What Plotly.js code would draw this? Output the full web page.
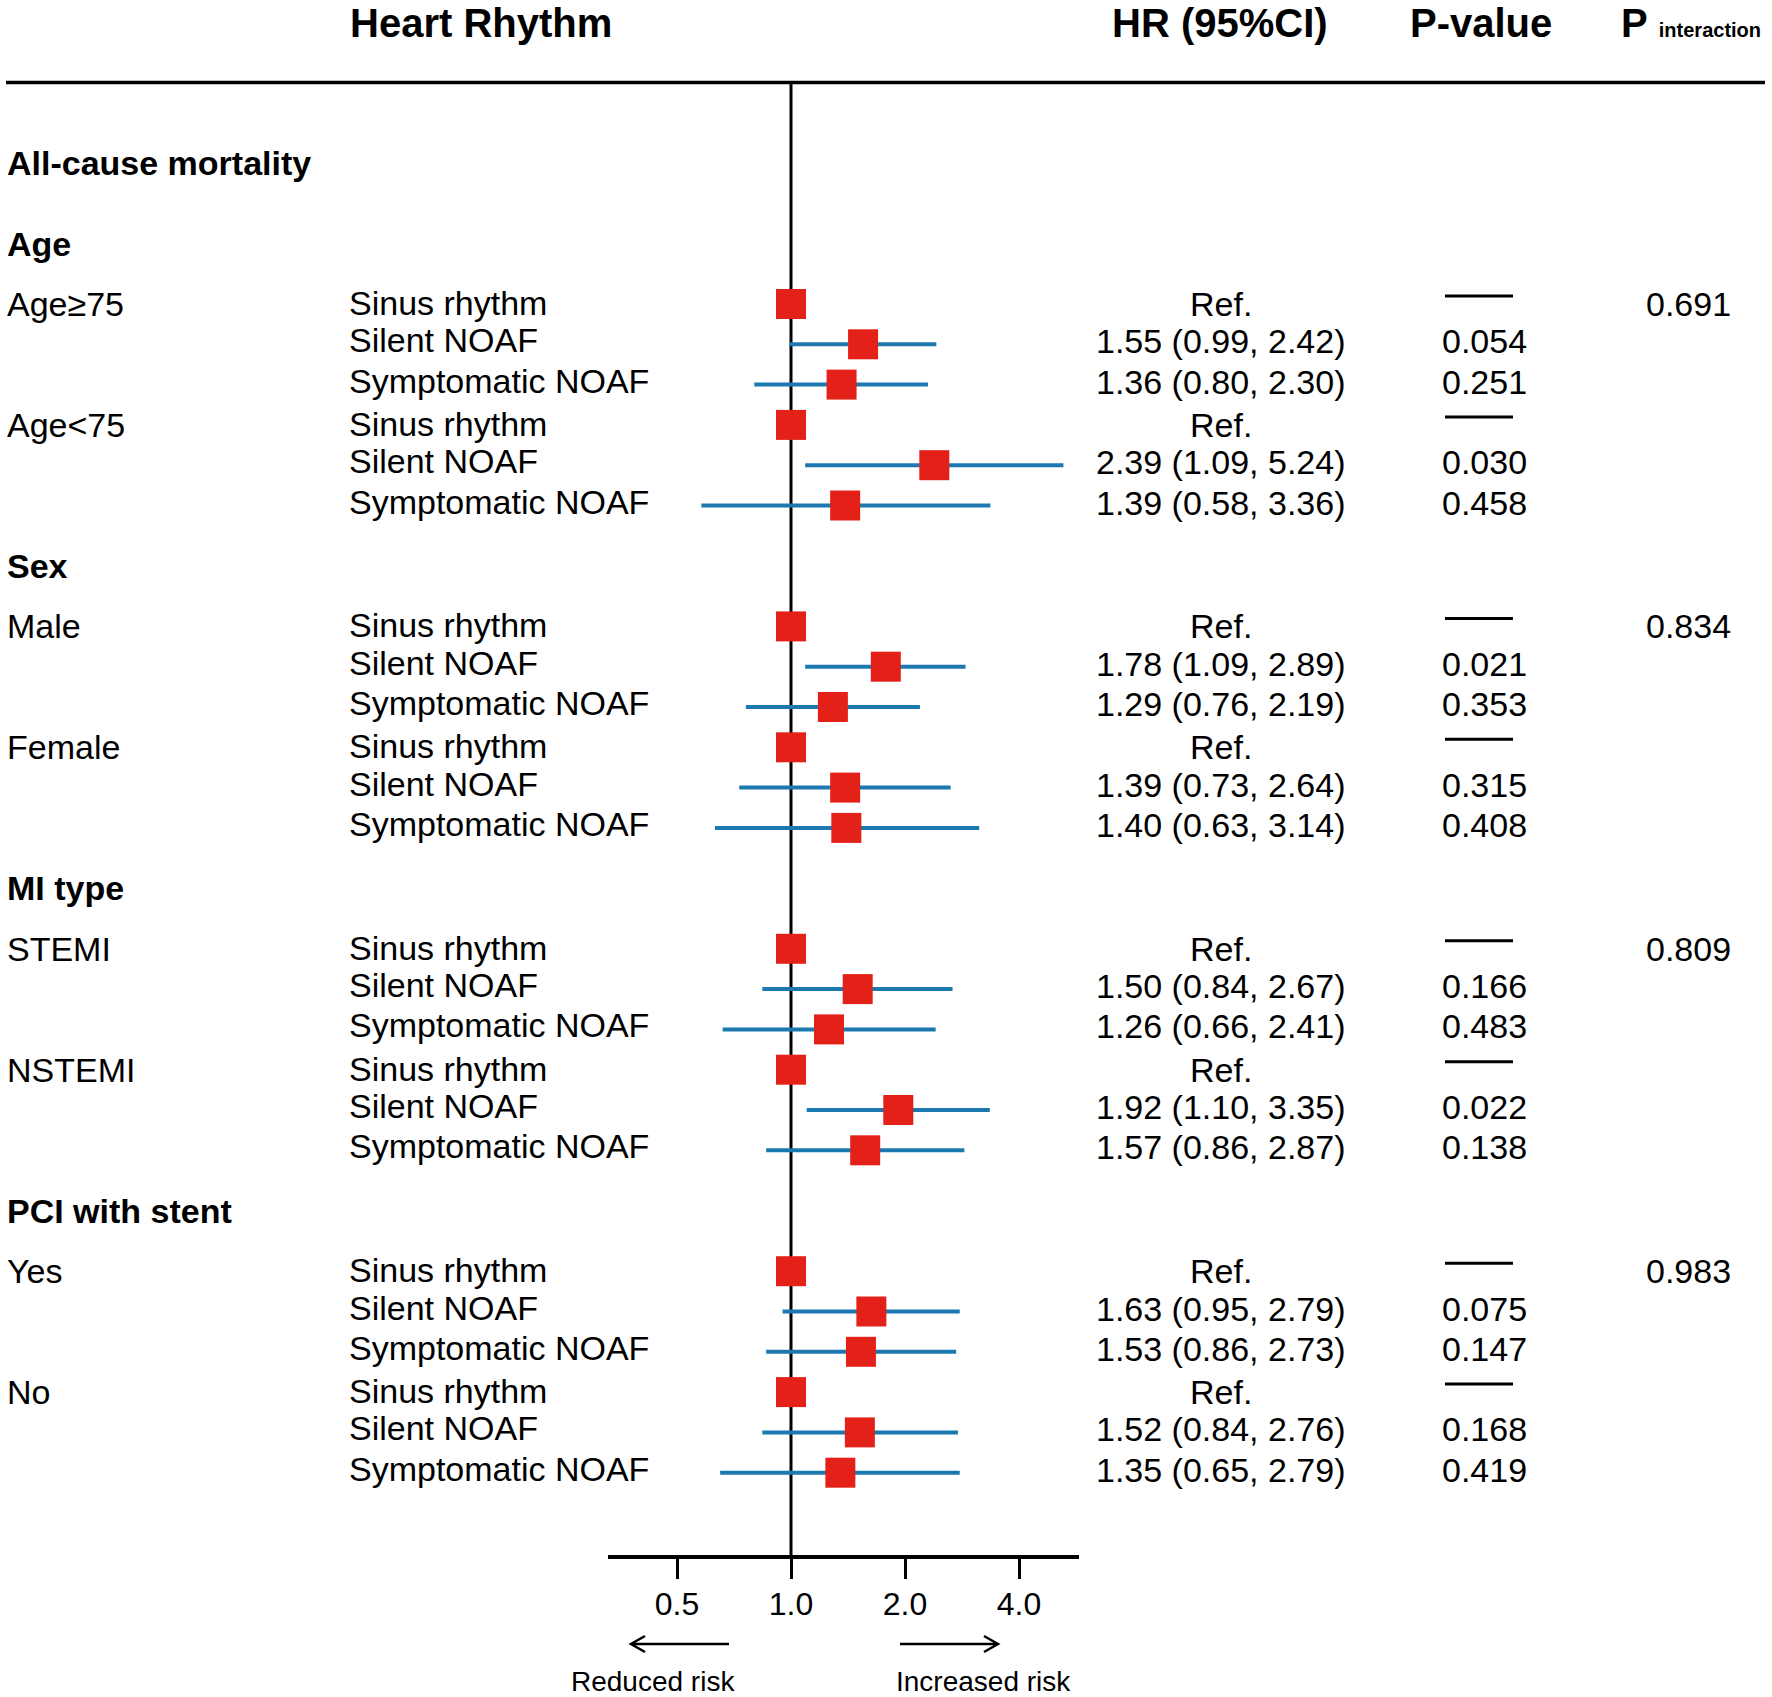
<!DOCTYPE html>
<html>
<head>
<meta charset="utf-8">
<script src="https://cdn.plot.ly/plotly-3.0.1.min.js"></script>
<style>html,body{margin:0;padding:0;background:#fff;}#chart{width:1772px;height:1697px;}</style>
</head>
<body>
<div id="chart"></div>
<script>
// ---------------- DATA ----------------
const outcome = 'All-cause mortality';
const groups = ['Age', 'Sex', 'MI type', 'PCI with stent'];
const subgroups = ['Age≥75', 'Age<75', 'Male', 'Female', 'STEMI', 'NSTEMI', 'Yes', 'No'];
const rhythms = ['Sinus rhythm', 'Silent NOAF', 'Symptomatic NOAF'];
const hr    = [1, 1.55, 1.36,  1, 2.39, 1.39,  1, 1.78, 1.29,  1, 1.39, 1.40,  1, 1.50, 1.26,  1, 1.92, 1.57,  1, 1.63, 1.53,  1, 1.52, 1.35];
const lower = [null, 0.99, 0.80,  null, 1.09, 0.58,  null, 1.09, 0.76,  null, 0.73, 0.63,  null, 0.84, 0.66,  null, 1.10, 0.86,  null, 0.95, 0.86,  null, 0.84, 0.65];
const upper = [null, 2.42, 2.30,  null, 5.24, 3.36,  null, 2.89, 2.19,  null, 2.64, 3.14,  null, 2.67, 2.41,  null, 3.35, 2.87,  null, 2.79, 2.73,  null, 2.76, 2.79];
const pValues = [null, '0.054', '0.251',  null, '0.030', '0.458',  null, '0.021', '0.353',  null, '0.315', '0.408',  null, '0.166', '0.483',  null, '0.022', '0.138',  null, '0.075', '0.147',  null, '0.168', '0.419'];
const pInteraction = ['0.691', '0.834', '0.809', '0.983'];
const tickValues = [0.5, 1, 2, 4];
const tickLabels = ['0.5', '1.0', '2.0', '4.0'];
const headers = ['Heart Rhythm', 'HR (95%CI)', 'P-value', 'P', 'interaction'];
const arrowLabels = ['Reduced risk', 'Increased risk'];

// ---------------- LAYOUT HELPERS ----------------
const W = 1772, H = 1697;
const FONT = 'Liberation Sans, Arial, Helvetica, sans-serif';
const BODY = 34;
const ROW0 = 304, STEP = 40.3;       // pixel of first row, row spacing
const AXIS_Y = 1555;                 // pixel of x axis line
const RULE_Y = 82.5;
const X_L = 608, X_R = 1079, X_ONE = 791, PX_PER_DOUBLING = 114;
const px = x => x / W;
const py = y => 1 - y / H;
const rowOf = (g, k, r) => g * 8 + k * 3 + r;
const pOfPx = y => (y - ROW0) / STEP;

const log2w = (X_R - X_L) / PX_PER_DOUBLING * Math.log10(2);
const fracOne = (X_ONE - X_L) / (X_R - X_L);
const xRange = [-fracOne * log2w, (1 - fracOne) * log2w];

const RED = '#e32119', BLUE = '#1b79b0';

const rowY = [];
hr.forEach((v, i) => {
  const g = Math.floor(i / 6), k = Math.floor((i % 6) / 3), r = i % 3;
  rowY.push(rowOf(g, k, r));
});

const annotations = [];
const shapes = [];
function txt(text, x, y, opts) {
  annotations.push(Object.assign({
    text: text, x: x, y: y, xref: 'paper', yref: 'y', showarrow: false,
    xanchor: 'left', yanchor: 'middle',
    font: {family: FONT, size: BODY, color: '#000'}
  }, opts || {}));
}

// Column headers
const hdrY = py(23);
const HF = {family: FONT, size: 40, color: '#000'};
txt('<b>' + headers[0] + '</b>', px(348), hdrY, {yref: 'paper', font: HF});
txt('<b>' + headers[1] + '</b>', px(1220), hdrY, {yref: 'paper', xanchor: 'center', font: HF});
txt('<b>' + headers[2] + '</b>', px(1481), hdrY, {yref: 'paper', xanchor: 'center', font: HF});
txt('<b>' + headers[3] + '</b> <span style="font-size:20px"><b>' + headers[4] + '</b></span>', px(1619), hdrY,
    {yref: 'paper', font: HF});

// Outcome + group headers
txt('<b>' + outcome + '</b>', px(5), -3.5);
groups.forEach((gname, g) => {
  txt('<b>' + gname + '</b>', px(5), rowOf(g, 0, 0) - 1.5);
  txt(pInteraction[g], px(1688), rowOf(g, 0, 0), {xanchor: 'center'});
});
subgroups.forEach((s, j) => {
  txt(s, px(5), rowOf(Math.floor(j / 2), j % 2, 0));
});

// Row texts
hr.forEach((v, i) => {
  const r = i % 3;
  const y = rowY[i];
  txt(rhythms[r], px(347), y, {yshift: r === 0 ? 1 : 4});
  if (lower[i] === null) {
    txt('Ref.', px(1221), y, {xanchor: 'center', yshift: 0});
    shapes.push({type: 'line', xref: 'paper', yref: 'y', x0: px(1445), x1: px(1513),
                 y0: y - 8 / STEP, y1: y - 8 / STEP, line: {color: '#000', width: 3}});
  } else {
    txt(v.toFixed(2) + ' (' + lower[i].toFixed(2) + ', ' + upper[i].toFixed(2) + ')', px(1221), y, {xanchor: 'center', yshift: 3});
    txt(pValues[i], px(1484), y, {xanchor: 'center', yshift: 3});
  }
});

// Top rule
shapes.push({type: 'line', xref: 'paper', yref: 'paper', x0: px(6), x1: px(1765), y0: py(RULE_Y), y1: py(RULE_Y),
             line: {color: '#000', width: 3.5}});

// Arrows
const AY = 1644;
shapes.push({type: 'path', xref: 'paper', yref: 'paper',
  path: `M${px(729)},${py(AY)} L${px(631)},${py(AY)} M${px(645)},${py(AY - 8)} L${px(631)},${py(AY)} L${px(645)},${py(AY + 8)}`,
  line: {color: '#000', width: 2.5}});
shapes.push({type: 'path', xref: 'paper', yref: 'paper',
  path: `M${px(900)},${py(AY)} L${px(998)},${py(AY)} M${px(984)},${py(AY - 8)} L${px(998)},${py(AY)} L${px(984)},${py(AY + 8)}`,
  line: {color: '#000', width: 2.5}});
txt(arrowLabels[0], px(653), py(1681), {yref: 'paper', xanchor: 'center', font: {family: FONT, size: 28, color: '#000'}});
txt(arrowLabels[1], px(983), py(1681), {yref: 'paper', xanchor: 'center', font: {family: FONT, size: 28, color: '#000'}});

// ---------------- TRACES ----------------
const refLine = {
  type: 'scatter', mode: 'lines', x: [1, 1], y: [pOfPx(RULE_Y), pOfPx(AXIS_Y)],
  line: {color: '#000', width: 3}, hoverinfo: 'skip', showlegend: false, cliponaxis: false
};
const points = {
  type: 'scatter', mode: 'markers', x: hr, y: rowY,
  error_x: {
    type: 'data', symmetric: false,
    array: hr.map((v, i) => upper[i] === null ? 0 : upper[i] - v),
    arrayminus: hr.map((v, i) => lower[i] === null ? 0 : v - lower[i]),
    color: BLUE, thickness: 4, width: 0
  },
  marker: {symbol: 'square', size: 30, color: RED, line: {width: 0}},
  hoverinfo: 'skip', showlegend: false, cliponaxis: false
};

const layout = {
  width: W, height: H,
  margin: {l: 0, r: 0, t: 0, b: 0, pad: 0},
  paper_bgcolor: '#fff', plot_bgcolor: '#fff',
  showlegend: false, hovermode: false,
  xaxis: {
    type: 'log', domain: [px(X_L), px(X_R)], range: xRange,
    tickvals: tickValues, ticktext: tickLabels,
    ticks: 'outside', ticklen: 20, tickwidth: 3, tickcolor: '#000',
    showline: true, linecolor: '#000', linewidth: 3.5,
    showgrid: false, zeroline: false, fixedrange: true,
    ticklabelstandoff: -2,
    tickfont: {family: FONT, size: 32, color: '#000'}
  },
  yaxis: {
    domain: [1 - AXIS_Y / H, 1], range: [pOfPx(AXIS_Y), pOfPx(0)],
    visible: false, showgrid: false, zeroline: false, fixedrange: true
  },
  annotations: annotations,
  shapes: shapes
};

Plotly.newPlot('chart', [refLine, points], layout, {displayModeBar: false, staticPlot: true});
</script>
</body>
</html>
